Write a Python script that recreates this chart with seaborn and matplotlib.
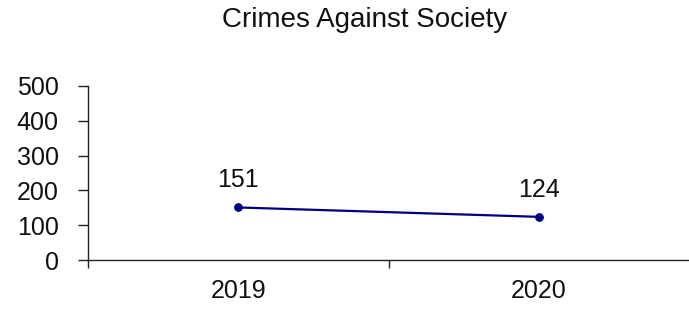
import matplotlib
matplotlib.use("Agg")
import matplotlib.pyplot as plt
import seaborn as sns
import pandas as pd

years = ["2019", "2020"]
values = [151, 124]
title = "Crimes Against Society"
yticks = [0, 100, 200, 300, 400, 500]

sns.set_theme(style="white")
plt.rcParams['font.family'] = ['Liberation Sans', 'DejaVu Sans']

df = pd.DataFrame({"year": years, "value": values})

fig = plt.figure(figsize=(6.89, 3.09), dpi=100)
ax = fig.add_axes([88/689, 1-260/309, 1-88/689, (260-86)/309])

sns.lineplot(data=df, x="year", y="value", ax=ax, color="#000080",
             marker="o", markersize=5.5, markeredgecolor="#000080", linewidth=1.6)

for i, v in enumerate(values):
    ax.annotate(str(v), (i, v), xytext=(0, 11), textcoords="offset points",
                ha="center", va="bottom", fontsize=18, color="#111111")

ax.set_xlim(-0.5, 1.5)
ax.set_ylim(0, 500)
ax.set_yticks(yticks)
ax.set_yticklabels([str(t) for t in yticks], fontsize=18, color="#111111")
ax.set_xticks([0, 1])
ax.set_xticklabels(years, fontsize=18, color="#111111")
ax.set_xticks([-0.5, 0.5], minor=True)
ax.tick_params(axis="x", which="major", length=0, pad=14)
ax.tick_params(axis="x", which="minor", length=6, width=1, color="#222222", direction="out", bottom=True)
ax.tick_params(axis="y", which="major", length=7, width=1, color="#222222", direction="out", left=True, pad=14)
ax.set_xlabel("")
ax.set_ylabel("")
for s in ["top", "right"]:
    ax.spines[s].set_visible(False)
for s in ["left", "bottom"]:
    ax.spines[s].set_color("#222222")
    ax.spines[s].set_linewidth(1)
ax.grid(False)

fig.text(365/689, 1-20/309, title, ha="center", va="center", fontsize=20, color="#111111")

fig.savefig("out.png", dpi=100)
